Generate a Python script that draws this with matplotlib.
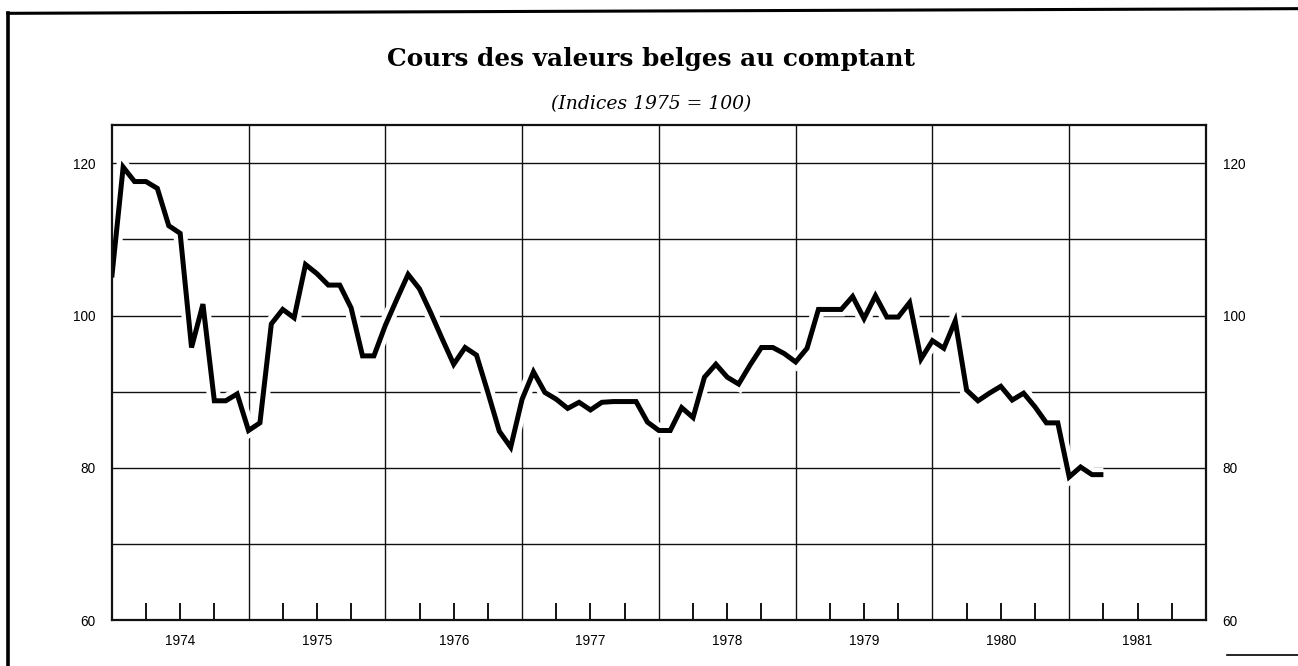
import matplotlib
matplotlib.use("Agg")
import matplotlib.pyplot as plt
import matplotlib.patheffects as pe
from matplotlib.lines import Line2D
import numpy as np

# monthly index values, 1975 = 100
v1974 = [105.0, 119.5, 117.6, 117.6, 116.7, 111.8, 110.8, 95.8, 101.5, 88.8, 88.8, 89.7]
v1975 = [84.9, 85.9, 98.9, 100.8, 99.7, 106.7, 105.5, 104.0, 104.0, 101.0, 94.7, 94.7]
v1976 = [98.7, 102.1, 105.4, 103.5, 100.3, 96.9, 93.6, 95.8, 94.8, 89.9, 84.8, 82.7]
v1977 = [89.0, 92.6, 89.9, 89.0, 87.8, 88.6, 87.6, 88.6, 88.7, 88.7, 88.7, 86.0]
v1978 = [84.9, 84.9, 87.9, 86.6, 91.9, 93.6, 91.9, 91.0, 93.5, 95.8, 95.8, 95.0]
v1979 = [93.9, 95.7, 100.8, 100.8, 100.8, 102.5, 99.6, 102.6, 99.8, 99.8, 101.7, 94.3]
v1980 = [96.7, 95.7, 99.3, 90.2, 88.8, 89.8, 90.7, 88.9, 89.8, 88.0, 85.9, 85.9]
v1981 = [78.8, 80.1, 79.1, 79.1]

years = [1974, 1975, 1976, 1977, 1978, 1979, 1980, 1981]
y_labels = [60, 80, 100, 120]

values = np.array(v1974 + v1975 + v1976 + v1977 + v1978 + v1979 + v1980 + v1981)
months = 1974 + np.arange(len(values)) / 12

fig = plt.figure(figsize=(12.98, 6.66), dpi=100)
ax = fig.add_axes([0.0861, 0.069, 0.843, 0.743])

ax.set_xlim(1974, 1982)
ax.set_ylim(60, 125)

# grid: horizontal every 10, vertical at year boundaries
for y in range(70, 125, 10):
    ax.axhline(y, color="#111111", lw=1.0, zorder=1)
for yr in years[1:]:
    ax.axvline(yr, color="#111111", lw=1.0, zorder=1)

ax.plot(months, values, color="black", lw=3.6, solid_joinstyle="miter",
        solid_capstyle="butt", zorder=3,
        path_effects=[pe.Stroke(linewidth=10, foreground="white"), pe.Normal()])

# quarter ticks along the bottom, year names in the middle of each year
qticks = [yr + q for yr in years for q in (0.25, 0.5, 0.75)]
qlabels = [str(int(t)) if abs(t % 1 - 0.5) < 1e-6 else "" for t in qticks]
ax.set_xticks(qticks)
ax.set_xticklabels(qlabels, fontsize=9.8, family="Liberation Sans")
ax.tick_params(axis="x", direction="in", length=12, width=1.4, pad=10, color="#111111")

ax.set_yticks(y_labels)
ax.tick_params(axis="y", length=0, pad=12, labelsize=9.8, left=True, right=True,
               labelleft=True, labelright=True)
for lab in ax.get_yticklabels():
    lab.set_family("Liberation Sans")

for s in ax.spines.values():
    s.set_linewidth(1.6)
    s.set_color("#111111")
    s.set_zorder(4)

fig.text(0.5015, 0.912, "Cours des valeurs belges au comptant", ha="center", va="center",
         fontsize=17.8, fontweight="bold", family="DejaVu Serif")
fig.text(0.5015, 0.843, "(Indices 1975 = 100)", ha="center", va="center",
         fontsize=13.5, style="italic", family="DejaVu Serif")

# outer frame lines
fig.add_artist(Line2D([0.006, 1.0], [0.980, 0.987], color="black", lw=2.2))
fig.add_artist(Line2D([0.0065, 0.0065], [0.0, 0.980], color="black", lw=2.6))
fig.add_artist(Line2D([0.945, 1.0], [0.017, 0.017], color="black", lw=1.2))

fig.savefig("out.png", dpi=100)
